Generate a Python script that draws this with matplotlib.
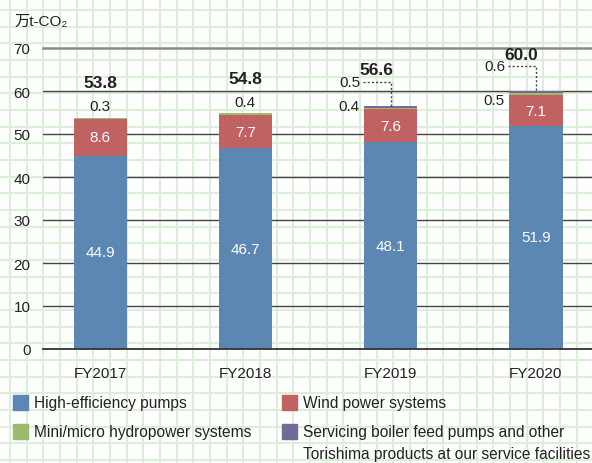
import numpy as np
import matplotlib.pyplot as plt
from matplotlib.lines import Line2D
from matplotlib.patches import Rectangle

# data
years = ["FY2017", "FY2018", "FY2019", "FY2020"]
pumps = [44.9, 46.7, 48.1, 51.9]
wind = [8.6, 7.7, 7.6, 7.1]
hydro = [0.3, 0.4, 0.4, 0.5]
service = [0.0, 0.0, 0.5, 0.6]
totals = ["53.8", "54.8", "56.6", "60.0"]

c_blue = "#5b87b2"
c_red = "#c06262"
c_green = "#9bbb6e"
c_purple = "#716c96"
txt = "#222222"
FONT = ["Liberation Sans", "Noto Sans CJK JP", "DejaVu Sans"]
plt.rcParams['font.family'] = FONT

W, H = 592, 464
fig = plt.figure(figsize=(W / 100, H / 100), dpi=100)
fig.patch.set_facecolor("white")

# graph paper background
gcol = "#dcefd9"
for x in np.arange(10, W, 16.67):
    fig.add_artist(Line2D([x / W, x / W], [0, 1], color=gcol, lw=1.5, zorder=0))
for y in np.arange(11, H, 16.67):
    fig.add_artist(Line2D([0, 1], [1 - y / H, 1 - y / H], color=gcol, lw=1.5, zorder=0))

ax = fig.add_axes([43 / W, 1 - 350 / H, (W - 43) / W, (350 - 49) / H])
ax.set_facecolor("none")
ax.set_zorder(2)
x = np.arange(len(years))
bw = 0.366

b1 = np.array(pumps)
b2 = b1 + np.array(wind)
b3 = b2 + np.array(hydro)
ax.bar(x, pumps, bw, color=c_blue, zorder=3)
ax.bar(x, wind, bw, bottom=b1, color=c_red, zorder=3)
ax.bar(x, hydro, bw, bottom=b2, color=c_green, zorder=3)
ax.bar(x, service, bw, bottom=b3, color=c_purple, zorder=3)

for yv in range(0, 80, 10):
    if yv == 70:
        ax.axhline(yv, color="#8a8a8a", lw=1.8, zorder=1, clip_on=False)
    elif yv == 0:
        ax.axhline(yv, color="#333333", lw=1.3, zorder=4, clip_on=False)
    else:
        ax.axhline(yv, color="#444444", lw=1.0, zorder=1)

ax.set_xlim(-0.393, 3.386)
ax.set_ylim(0, 70)
ax.set_yticks(range(0, 80, 10))
ax.set_xticks(x)
ax.set_xticklabels(years)
ax.tick_params(length=0, labelsize=11, colors=txt, pad=9)
ax.tick_params(axis="x", pad=12)
for s in ax.spines.values():
    s.set_visible(False)

# segment labels
for i in range(4):
    ax.text(x[i], pumps[i] / 2, f"{pumps[i]:.1f}", ha="center", va="center",
            color="white", fontsize=11, zorder=5)
    ax.text(x[i], b1[i] + wind[i] / 2, f"{wind[i]:.1f}", ha="center", va="center",
            color="white", fontsize=11, zorder=5)

top = b3 + np.array(service)
# FY2017 / FY2018: small value above bar, total above that
for i in range(2):
    ax.text(x[i], top[i] + 1.0, f"{hydro[i]:.1f}", ha="center", va="bottom",
            color=txt, fontsize=11)
    ax.text(x[i], top[i] + 6.4, totals[i], ha="center", va="bottom",
            color=txt, fontsize=12.5, fontweight="bold")

# FY2019 / FY2020: hydro label left, service label with dotted leader
hydro_lab_y = {2: 56.4, 3: 57.9}
for i in range(2, 4):
    ax.text(x[i] - bw / 2 - 0.03, hydro_lab_y[i], f"{hydro[i]:.1f}", ha="right",
            va="center", color=txt, fontsize=11)
    ly = top[i] + 5.6
    lx0 = x[i] - 0.19
    ax.plot([lx0, x[i], x[i]], [ly, ly, top[i]], ls=(0, (1.5, 1.5)),
            color="#444444", lw=1, zorder=4)
    ax.text(lx0 - 0.02, ly, f"{service[i]:.1f}", ha="right", va="center",
            color=txt, fontsize=11)
    ax.text(x[i] - 0.1, ly + 1.0, totals[i], ha="center", va="bottom",
            color=txt, fontsize=12.5, fontweight="bold")

# unit label
fig.text(14 / W, 1 - 22 / H, "万t-CO₂", ha="left", va="center", fontsize=11,
         color=txt, family=FONT)

# legend
legend = [
    (13, 404, c_blue, "High-efficiency pumps"),
    (282, 404, c_red, "Wind power systems"),
    (13, 433, c_green, "Mini/micro hydropower systems"),
    (282, 433, c_purple, "Servicing boiler feed pumps and other"),
]
for lx, ly, col, lab in legend:
    fig.add_artist(Rectangle((lx / W, 1 - (ly + 7) / H), 15 / W, 15 / H,
                             color=col, transform=fig.transFigure, zorder=3))
    fig.text((lx + 21) / W, 1 - ly / H, lab, ha="left", va="center",
             fontsize=11.2, color=txt)
fig.text(303 / W, 1 - 455 / H, "Torishima products at our service facilities",
         ha="left", va="center", fontsize=11.2, color=txt)

fig.savefig("out.png", dpi=100)
